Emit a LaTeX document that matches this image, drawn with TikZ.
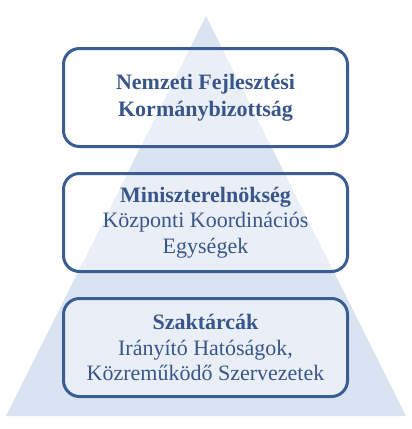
\documentclass[tikz,border=0pt]{standalone}
\usepackage{fontspec}
\setmainfont{Liberation Serif}
\usepackage{xcolor}
\usepackage{tikz}
\usetikzlibrary{positioning}

\definecolor{pyrblue}{RGB}{218,227,241}
\definecolor{edgeblue}{RGB}{58,94,146}
\definecolor{textblue}{RGB}{56,86,138}

\begin{document}
\begin{tikzpicture}[x=1pt, y=-1pt,
    tier/.style={draw=edgeblue, line width=3pt, rounded corners=16pt,
        fill=white, fill opacity=0.45, text opacity=1, text=textblue,
        minimum width=284pt, minimum height=98pt, align=center,
        font=\fontsize{22}{25.5}\selectfont,
        execute at begin node={\rule{0pt}{24pt}}}]
            \useasboundingbox (0, 0) rectangle (412, 429);

            \fill[pyrblue] (206, 16) -- (406, 416) -- (6, 416) -- cycle;

            \node[tier] (kormany) at (205.5, 97.5) {\textbf{Nemzeti Fejlesztési}\\[1.5pt]\textbf{Kormánybizottság}};
            \node[tier, below=24pt of kormany] (miniszter) {\textbf{Miniszterelnökség}\\Központi Koordinációs\\Egységek};
            \node[tier, below=24pt of miniszter] (szaktarca) {\textbf{Szaktárcák}\\Irányító Hatóságok,\\Közreműködő Szervezetek};
        \end{tikzpicture}
\end{document}
